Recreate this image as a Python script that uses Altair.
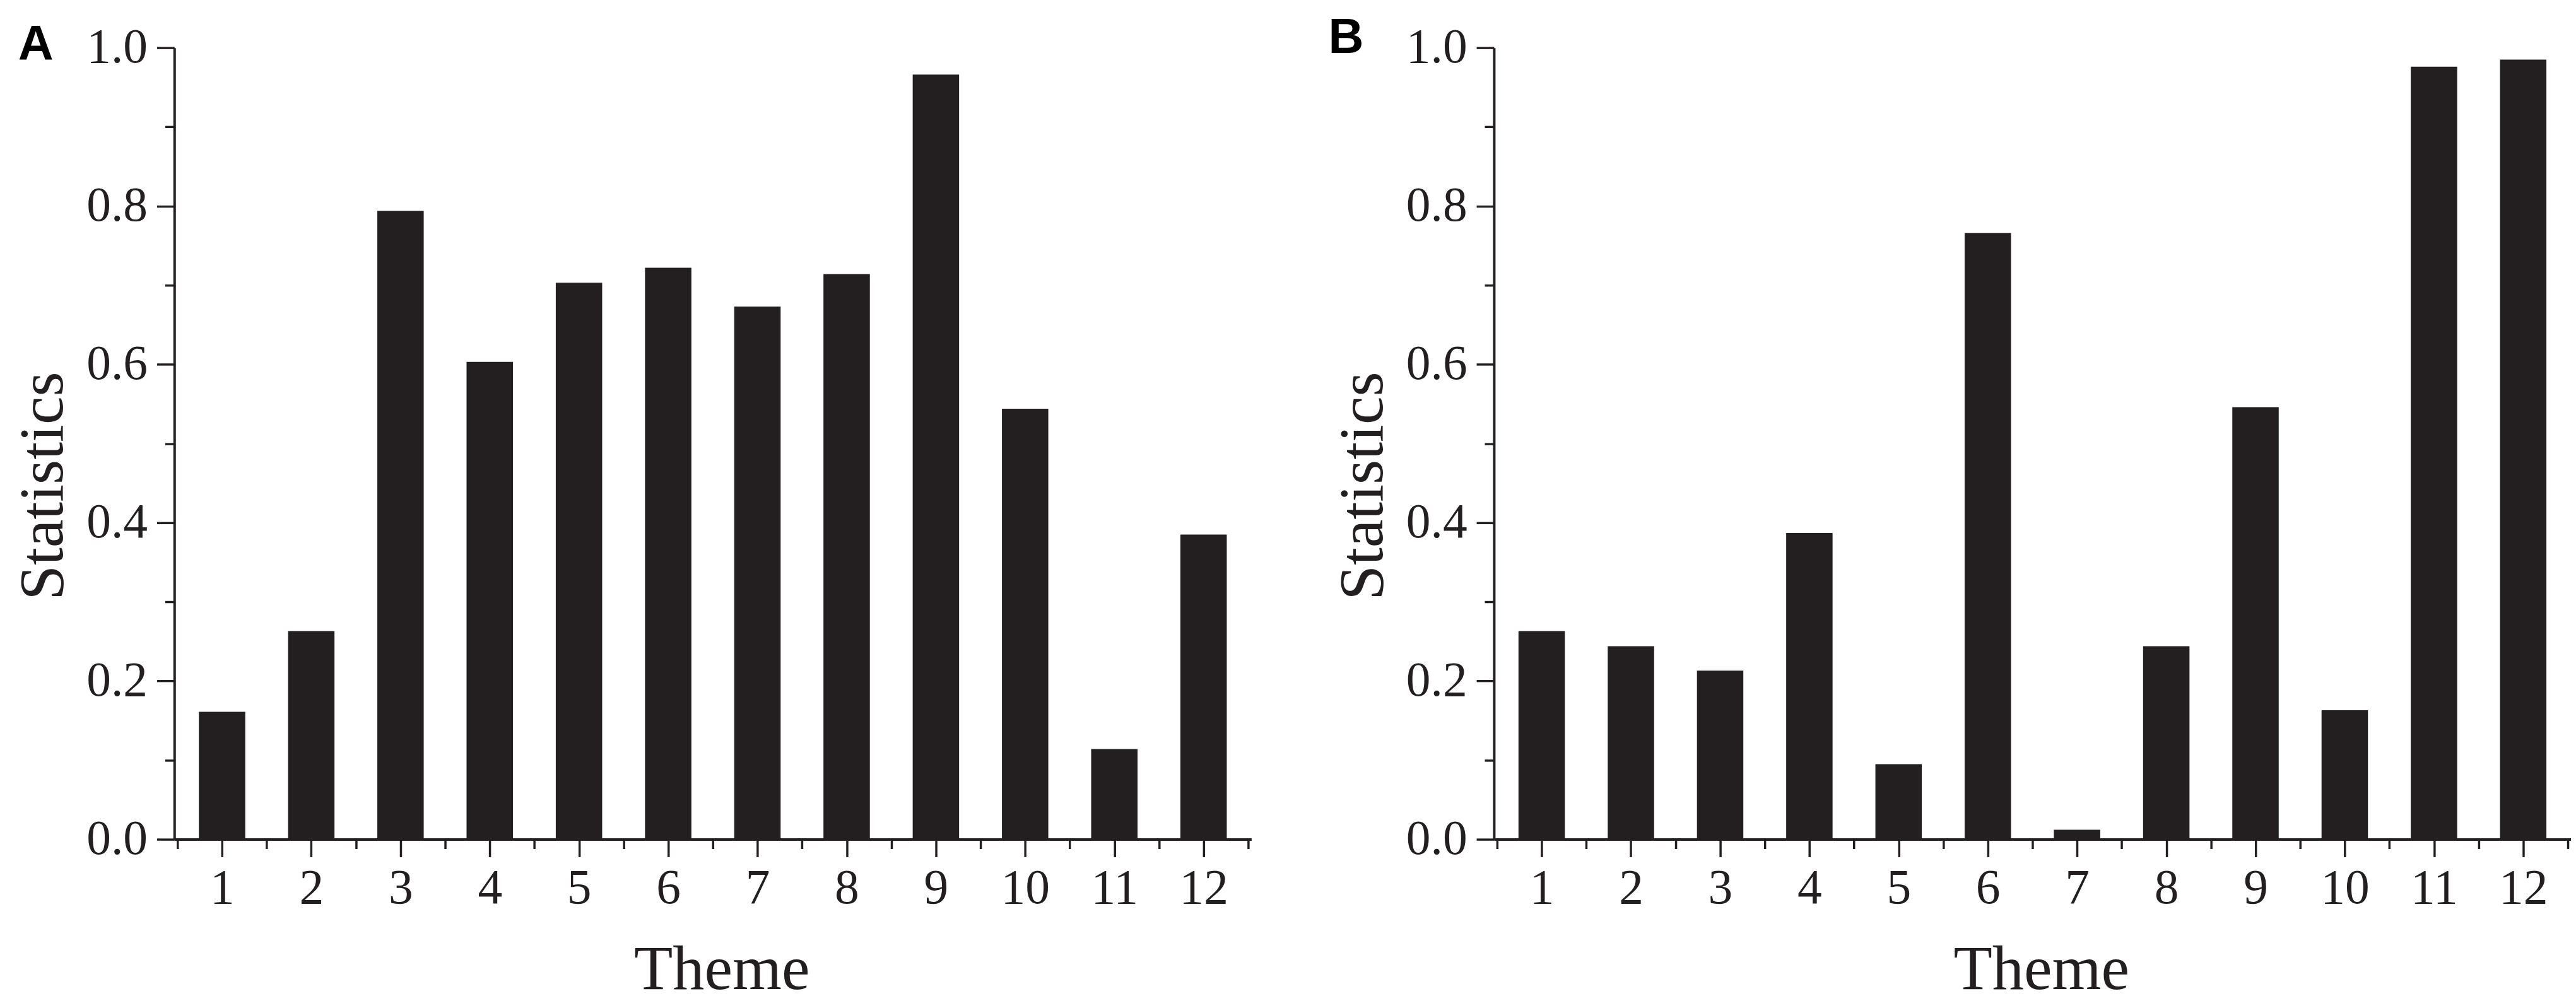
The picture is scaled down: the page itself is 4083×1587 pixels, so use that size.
import altair as alt
import pandas as pd

# ---- data ----
themes = [1, 2, 3, 4, 5, 6, 7, 8, 9, 10, 11, 12]
stats_a = [0.161, 0.263, 0.794, 0.603, 0.703, 0.722, 0.673, 0.714, 0.966, 0.544, 0.114, 0.385]
stats_b = [0.263, 0.244, 0.213, 0.387, 0.095, 0.766, 0.012, 0.244, 0.546, 0.163, 0.976, 0.985]
x_ticks = [0.5, 1, 1.5, 2, 2.5, 3, 3.5, 4, 4.5, 5, 5.5, 6, 6.5, 7, 7.5, 8, 8.5, 9, 9.5,
           10, 10.5, 11, 11.5, 12, 12.5]
y_ticks = [0.0, 0.1, 0.2, 0.3, 0.4, 0.5, 0.6, 0.7, 0.8, 0.9, 1.0]
panel_letters = ["A", "B"]

INK = "#231f20"
W, H = 1718, 1263


def panel(values, letter, dx, offset):
    df = pd.DataFrame({"Theme": themes, "Statistics": values})
    title = alt.TitleParams(
        text=letter, anchor="start", frame="group", orient="top",
        font="Liberation Sans", fontWeight="bold", fontSize=78, color="#000000",
        baseline="alphabetic", dx=dx, offset=offset,
    )
    x_axis = alt.Axis(
        values=x_ticks,
        labelExpr="datum.value % 1 == 0 ? format(datum.value, 'd') : ''",
        tickDash={"condition": {"test": "datum.value % 1 != 0", "value": [15, 60]}, "value": []},
        title="Theme", titleX=W / 2 + 14, labelPadding=12, titlePadding=40,
        labelOverlap=False, labelFlush=False, grid=False,
    )
    y_axis = alt.Axis(
        values=y_ticks,
        labelExpr="round(datum.value * 10) % 2 == 0 ? format(datum.value, '.1f') : ''",
        tickDash={"condition": {"test": "round(datum.value * 10) % 2 != 0", "value": [15, 60]}, "value": []},
        title="Statistics", titleY=699, labelPadding=15, titlePadding=17,
        labelOverlap=False, grid=False,
    )
    return (
        alt.Chart(df, title=title)
        .mark_bar(size=74, color=INK)
        .encode(
            x=alt.X("Theme:Q", scale=alt.Scale(domain=[0.5, 12.5], nice=False, zero=False), axis=x_axis),
            y=alt.Y("Statistics:Q", scale=alt.Scale(domain=[0, 1], nice=False), axis=y_axis),
        )
        .properties(width=W, height=H)
    )


chart = (
    alt.hconcat(
        panel(stats_a, panel_letters[0], -249, -136),
        panel(stats_b, panel_letters[1], -264, -125),
        spacing=123,
    )
    .properties(padding={"left": 10, "top": 9, "right": 0, "bottom": 0}, background="white")
    .configure_view(stroke=None)
    .configure_axis(
        domainColor=INK, domainWidth=4, tickColor=INK, tickWidth=3.5, tickSize=28,
        labelFont="Liberation Serif", labelFontSize=78, labelColor=INK,
        titleFont="Liberation Serif", titleFontSize=101, titleFontWeight="normal",
        titleColor=INK, zindex=1,
    )
)

chart.save("out.html", embed_options={"renderer": "svg", "actions": False})
